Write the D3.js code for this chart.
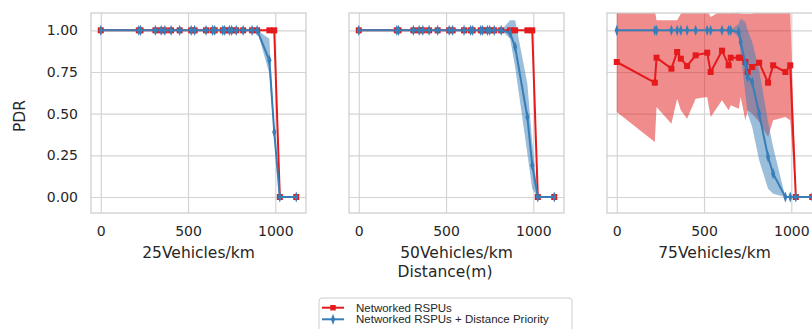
<!DOCTYPE html>
<html>
<head>
<meta charset="utf-8">
<script src="https://cdn.jsdelivr.net/npm/d3@7"></script>
<style>
  body { margin: 0; background: #fff; }
  svg { display: block; }
  .grid line { stroke: #d4d4d4; stroke-width: 1.2; }
  .grid .domain { display: none; }
  .grid text { font-family: "DejaVu Sans"; font-size: 14px; fill: #262626; }
  .label { font-family: "DejaVu Sans"; font-size: 15.5px; fill: #262626; }
  .legend text { font-family: "Liberation Sans"; font-size: 11.5px; fill: #262626; }
</style>
</head>
<body>
<svg id="chart" width="812" height="329"></svg>
<script>

// distances (m) shared by every panel
const distances = [0, 218, 228, 313, 346, 367, 403, 452, 518, 538, 603, 641, 653, 699, 710, 737, 750, 776, 816, 867, 896, 966, 994, 1026, 1120]

const densities = ["25Vehicles/km", "50Vehicles/km", "75Vehicles/km"]
const seriesNames = ["Networked RSPUs", "Networked RSPUs + Distance Priority"]
const yTicks = [0, 0.25, 0.5, 0.75, 1]
const xTicks = [0, 500, 1000]

// 25 vehicles/km
const red25    = [1,1,1,1,1,1,1,1,1,1,1,1,1,1,1,1,1,1,1,1,1,1,1,0,0]
const red25Lo  = [1,1,1,1,1,1,1,1,1,1,1,1,1,1,1,1,1,1,1,1,1,1,1,0,0]
const red25Hi  = [1,1,1,1,1,1,1,1,1,1,1,1,1,1,1,1,1,1,1,1,1,1,1,0,0]
const blue25   = [1,1,1,1,1,1,1,1,1,1,1,1,1,1,1,1,1,1,1,1,1,0.82,0.39,0,0]
const blue25Lo = [1,1,1,1,1,1,1,1,1,1,1,1,1,1,1,1,1,1,1,1,1,0.74,0.36,0,0]
const blue25Hi = [1,1,1,1,1,1,1,1,1,1,1,1,1,1,1,1,1,1,1,1,1,0.95,0.42,0,0]

// 50 vehicles/km
const red50    = [1,1,1,1,1,1,1,1,1,1,1,1,1,1,1,1,1,1,1,1,1,1,1,0,0]
const red50Lo  = [1,1,1,1,1,1,1,1,1,1,1,1,1,1,1,1,1,1,1,1,1,1,1,0,0]
const red50Hi  = [1,1,1,1,1,1,1,1,1,1,1,1,1,1,1,1,1,1,1,1,1,1,1,0,0]
const blue50   = [1,1,1,1,1,1,1,1,1,1,1,1,1,1,1,1,1,1,1,0.985,0.90,0.48,0.19,0,0]
const blue50Lo = [1,1,1,1,1,1,1,1,1,1,1,1,1,1,1,1,1,1,1,0.95,0.78,0.26,0.05,0,0]
const blue50Hi = [1,1,1,1,1,1,1,1,1,1,1,1,1,1,1,1,1,1,1,1.06,1.06,0.68,0.33,0,0]

// 75 vehicles/km
const red75    = [0.81,0.686,0.836,0.77,0.87,0.83,0.786,0.85,0.866,0.75,0.878,0.79,0.836,0.836,0.836,0.81,0.75,0.78,0.806,0.686,0.79,0.75,0.79,0,0]
const red75Lo  = [0.51,0.33,0.54,0.44,0.59,0.52,0.47,0.59,0.60,0.48,0.58,0.52,0.55,0.53,0.60,0.46,0.52,0.50,0.45,0.36,0.46,0.48,0.46,0,0]
const red75Hi  = [1.15,1.12,1.06,1.06,1.06,1.10,1.12,1.12,1.12,1.08,1.12,1.10,1.12,1.12,1.10,1.10,1.10,1.10,1.12,1.12,1.12,1.12,1.12,0,0]
const blue75   = [1,1,1,1,1,1,1,1,1,1,1,1,1,0.99,0.93,0.80,0.72,0.69,0.50,0.24,0.14,0,0,0,0]
const blue75Lo = [1,1,1,1,1,1,1,1,1,1,1,1,1,0.96,0.86,0.62,0.50,0.42,0.22,0.05,0.02,0,0,0,0]
const blue75Hi = [1,1,1,1,1,1,1,1,1,1,1,1,1,1.04,1.07,1.05,1.00,0.93,0.76,0.45,0.30,0,0,0,0]

const panels = [
  { title: densities[0], red: [red25, red25Lo, red25Hi], blue: [blue25, blue25Lo, blue25Hi] },
  { title: densities[1], red: [red50, red50Lo, red50Hi], blue: [blue50, blue50Lo, blue50Hi] },
  { title: densities[2], red: [red75, red75Lo, red75Hi], blue: [blue75, blue75Lo, blue75Hi] }
]

const RED = "#e41a1c", BLUE = "#377eb8"
const panelLeft = [91, 349, 607],
      panelTop = 13,
      width = 215,
      height = 200

var svg = d3.select("#chart")

var x = d3.scaleLinear().domain([-56, 1176]).range([0, width])
var y = d3.scaleLinear().domain([-0.096, 1.104]).range([height, 0])

function rows(vals) {
  return distances.map(function(d, i) { return { x: d, v: vals[0][i], lo: vals[1][i], hi: vals[2][i] } })
}

var line = d3.line().x(function(d) { return x(d.x) }).y(function(d) { return y(d.v) })
var band = d3.area().x(function(d) { return x(d.x) })
    .y0(function(d) { return y(d.lo) }).y1(function(d) { return y(d.hi) })

var diamond = d3.symbol().type(d3.symbolDiamond).size(30)

panels.forEach(function(p, k) {
  var g = svg.append("g").attr("transform", "translate(" + panelLeft[k] + "," + panelTop + ")")

  g.append("clipPath").attr("id", "clip" + k)
    .append("rect").attr("width", width).attr("height", height)

  g.append("g")
    .attr("class", "grid")
    .attr("transform", "translate(0," + height + ")")
    .call(d3.axisBottom(x).tickValues(xTicks).tickSize(-height).tickPadding(13).tickFormat(d3.format("d")))

  g.append("g")
    .attr("class", "grid")
    .call(d3.axisLeft(y).tickValues(yTicks).tickSize(-width).tickPadding(13)
      .tickFormat(k === 0 ? d3.format(".2f") : function() { return "" }))

  var plot = g.append("g").attr("clip-path", "url(#clip" + k + ")")
  var redRows = rows(p.red), blueRows = rows(p.blue)

  // bands under the lines
  plot.append("path").datum(redRows).attr("d", band)
    .attr("fill", RED).attr("fill-opacity", 0.5)
  plot.append("path").datum(blueRows).attr("d", band)
    .attr("fill", BLUE).attr("fill-opacity", 0.5)

  plot.append("path").datum(redRows).attr("d", line)
    .attr("fill", "none").attr("stroke", RED).attr("stroke-width", 2)
  plot.selectAll(".sq").data(redRows).enter().append("rect")
    .attr("x", function(d) { return x(d.x) - 3 })
    .attr("y", function(d) { return y(d.v) - 3 })
    .attr("width", 6).attr("height", 6)
    .attr("fill", RED)

  plot.append("path").datum(blueRows).attr("d", line)
    .attr("fill", "none").attr("stroke", BLUE).attr("stroke-width", 2)
  plot.selectAll(".dm").data(blueRows).enter().append("path")
    .attr("d", diamond)
    .attr("transform", function(d) { return "translate(" + x(d.x) + "," + y(d.v) + ") scale(0.7,1.1)" })
    .attr("fill", BLUE)

  g.append("rect")
    .attr("width", width).attr("height", height)
    .attr("fill", "none").attr("stroke", "#cccccc").attr("stroke-width", 1.2)

  g.append("text").attr("class", "label")
    .attr("x", width / 2).attr("y", 239.3).attr("dy", "0.35em")
    .attr("text-anchor", "middle")
    .text(p.title)
})

svg.append("text").attr("class", "label")
  .attr("x", 445).attr("y", 272).attr("dy", "0.35em")
  .attr("text-anchor", "middle")
  .text("Distance(m)")

svg.append("text").attr("class", "label")
  .attr("transform", "translate(19.5,116) rotate(-90)")
  .attr("dy", "0.35em")
  .attr("text-anchor", "middle")
  .text("PDR")

// legend
var legend = svg.append("g").attr("class", "legend")
legend.append("rect")
  .attr("x", 319).attr("y", 298).attr("width", 253).attr("height", 40).attr("rx", 3)
  .attr("fill", "#fff").attr("stroke", "#cccccc")

var items = legend.selectAll(".item").data(seriesNames).enter().append("g")
  .attr("transform", function(d, i) { return "translate(322," + (307.7 + i * 11.6) + ")" })
items.append("line").attr("x1", 0).attr("x2", 22)
  .attr("stroke", function(d, i) { return i ? BLUE : RED }).attr("stroke-width", 2)
items.append("path")
  .attr("d", function(d, i) { return i ? diamond() : d3.symbol().type(d3.symbolSquare).size(30)() })
  .attr("transform", function(d, i) { return "translate(11,0)" + (i ? " scale(0.7,1.1)" : "") })
  .attr("fill", function(d, i) { return i ? BLUE : RED })
items.append("text").attr("x", 34).attr("dy", "0.35em").text(function(d) { return d })

</script>
</body>
</html>
